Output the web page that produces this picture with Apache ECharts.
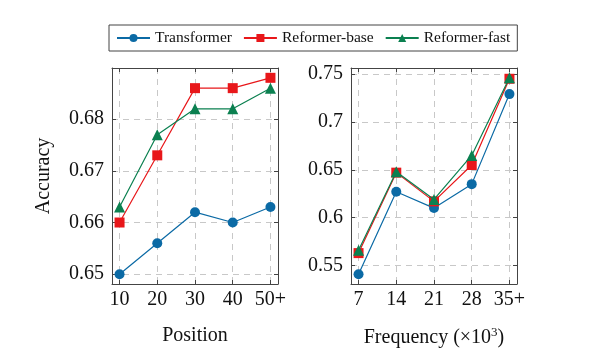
<!DOCTYPE html>
<html>
<head>
<meta charset="utf-8">
<script src="https://cdn.jsdelivr.net/npm/echarts@6/dist/echarts.min.js"></script>
<style>html,body{margin:0;padding:0;background:#fff;}#c{width:592px;height:360px;}</style>
</head>
<body>
<div id="c"></div>
<script>
const seriesNames = ['Transformer', 'Reformer-base', 'Reformer-fast'];
const positionCats = ['10', '20', '30', '40', '50+'];
const frequencyCats = ['7', '14', '21', '28', '35+'];

const posTransformer = [0.650, 0.656, 0.662, 0.660, 0.663];
const posReformerBase = [0.660, 0.673, 0.686, 0.686, 0.688];
const posReformerFast = [0.663, 0.677, 0.682, 0.682, 0.686];

const freqTransformer = [0.541, 0.627, 0.610, 0.635, 0.729];
const freqReformerBase = [0.563, 0.647, 0.617, 0.655, 0.745];
const freqReformerFast = [0.566, 0.648, 0.619, 0.665, 0.746];

const posTicks = [0.65, 0.66, 0.67, 0.68];
const freqTicks = [0.55, 0.6, 0.65, 0.7, 0.75];

const FONT = 'Liberation Serif';
const colors = ['#0b6aa5', '#e8171a', '#0b8050'];
const symbols = ['circle', 'rect', 'triangle'];
const symSizes = [10, 10, 11];

function pad(arr) {
  const mn = Math.min(...arr), mx = Math.max(...arr);
  const d = (mx - mn) * 0.05;
  return [mn - d, mx + d];
}
const posExt = pad(posTransformer.concat(posReformerBase, posReformerFast));
const freqExt = pad(freqTransformer.concat(freqReformerBase, freqReformerFast));
const catIdx = [0, 1, 2, 3, 4];

const frameColor = '#444';
const gridDash = {show: true, lineStyle: {color: '#c8c8c8', type: [6, 5], width: 1}};

function xAxes(gridIndex, cats, name) {
  const base = {
    type: 'value', gridIndex, min: -0.2, max: 4.2,
    axisLine: {show: true, onZero: false, lineStyle: {color: frameColor, width: 1}},
    axisTick: {show: true, inside: true, length: 4, customValues: catIdx, lineStyle: {color: frameColor}},
  };
  return [
    Object.assign({}, base, {
      position: 'bottom',
      splitLine: gridDash,
      axisLabel: {show: true, customValues: catIdx, formatter: v => cats[Math.round(v)],
        fontFamily: FONT, fontSize: 20, color: '#111', margin: 6},
      name: name, nameLocation: 'middle', nameGap: 42,
      nameTextStyle: {fontFamily: FONT, fontSize: 20, color: '#111',
        rich: {n: {fontFamily: FONT, fontSize: 20, color: '#111'},
               sup: {fontFamily: FONT, fontSize: 13, color: '#111', verticalAlign: 'top', padding: [0, 0, 10, 0]}}}
    }),
    Object.assign({}, base, {
      position: 'top', splitLine: {show: false}, axisLabel: {show: false}
    })
  ];
}
function yAxes(gridIndex, ext, ticks, name) {
  const base = {
    type: 'value', gridIndex, min: ext[0], max: ext[1],
    axisLine: {show: true, onZero: false, lineStyle: {color: frameColor, width: 1}},
    axisTick: {show: true, inside: true, length: 4, customValues: ticks, lineStyle: {color: frameColor}},
  };
  const l = Object.assign({}, base, {
    position: 'left',
    splitLine: gridDash,
    axisLabel: {show: true, customValues: ticks, formatter: v => String(parseFloat(v.toFixed(3))),
      fontFamily: FONT, fontSize: 20, color: '#111', margin: 8}
  });
  if (name) {
    l.name = name; l.nameLocation = 'middle'; l.nameGap = 58;
    l.nameTextStyle = {fontFamily: FONT, fontSize: 20, color: '#111'};
  }
  return [l, Object.assign({}, base, {position: 'right', splitLine: {show: false}, axisLabel: {show: false}})];
}

function mkSeries(name, i, vals, xi, yi) {
  return {
    name, type: 'line', xAxisIndex: xi, yAxisIndex: yi,
    data: vals.map((v, k) => [catIdx[k], v]),
    symbol: symbols[i], symbolSize: symSizes[i], showSymbol: true,
    itemStyle: {color: colors[i], opacity: 1},
    lineStyle: {color: colors[i], width: 1.2},
    emphasis: {disabled: true}, animation: false, z: 3 + i
  };
}

const chart = echarts.init(document.getElementById('c'), null, {renderer: 'canvas'});
chart.setOption({
  animation: false,
  color: colors,
  textStyle: {fontFamily: FONT},
  grid: [
    {left: 112, top: 68, width: 166, height: 216},
    {left: 351, top: 68, width: 166, height: 216}
  ],
  legend: {
    data: seriesNames, left: 109, top: 25, orient: 'horizontal',
    padding: [5, 7, 5, 7], itemGap: 11, itemWidth: 33, itemHeight: 10,
    borderColor: '#444', borderWidth: 1, borderRadius: 0,
    textStyle: {fontFamily: FONT, fontSize: 15.5, color: '#111'}
  },
  xAxis: xAxes(0, positionCats, '{n|Position}').concat(xAxes(1, frequencyCats, '{n|Frequency (×10}{sup|3}{n|)}')),
  yAxis: yAxes(0, posExt, posTicks, 'Accuracy').concat(yAxes(1, freqExt, freqTicks, null)),
  series: [
    mkSeries(seriesNames[0], 0, posTransformer, 0, 0),
    mkSeries(seriesNames[1], 1, posReformerBase, 0, 0),
    mkSeries(seriesNames[2], 2, posReformerFast, 0, 0),
    mkSeries(seriesNames[0], 0, freqTransformer, 2, 2),
    mkSeries(seriesNames[1], 1, freqReformerBase, 2, 2),
    mkSeries(seriesNames[2], 2, freqReformerFast, 2, 2)
  ]
});
</script>
</body>
</html>
